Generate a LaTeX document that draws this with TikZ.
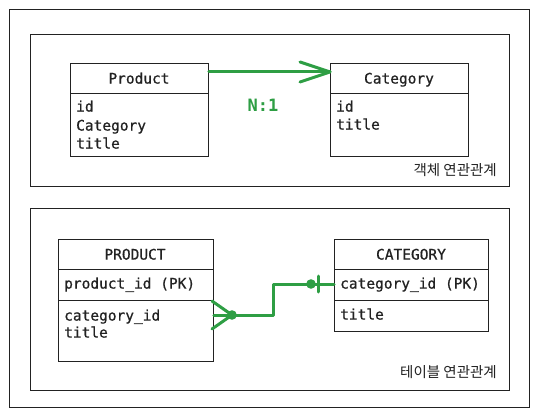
\documentclass[tikz,border=0pt]{standalone}
\usepackage{fontspec}
\setmonofont{DejaVu Sans Mono}[BoldFont=DejaVu Sans Mono, BoldFeatures={FakeBold=0.7}]
\newfontfamily\krfont{Noto Sans CJK KR}
\newfontfamily\monobold{DejaVu Sans Mono Bold}
\definecolor{relgreen}{RGB}{46,158,68}
\definecolor{ink}{RGB}{34,34,34}
\tikzset{
  frame/.style={draw=ink, line width=0.9pt},
  entity/.style={draw=ink, line width=0.9pt, anchor=north west, inner sep=0pt},
  sep/.style={draw=ink, line width=0.9pt},
  ttext/.style={font=\ttfamily\bfseries\fontsize{14.5}{17}\selectfont, text=ink, inner sep=0pt, text height=10.5pt, text depth=3pt, yshift=-1.8pt},
  field/.style={ttext, anchor=west},
  rel/.style={draw=relgreen, line width=3pt, line join=round, line cap=round},
  lbl/.style={font=\krfont\fontsize{14.5}{16}\selectfont, text=ink, inner sep=0pt, anchor=east},
}
\begin{document}
\begin{tikzpicture}[x=1pt, y=-1pt]
\useasboundingbox (0,0) rectangle (540,417);
\fill[white] (0,0) rectangle (540,417);
% frames
\draw[frame] (9,9) rectangle (529,407);
\draw[frame] (30,34) rectangle (509,186);
\draw[frame] (30,208) rectangle (509,390);
% ---- object relation ----
\node[entity, minimum width=138pt, minimum height=93pt] (prod) at (70,63) {};
\draw[sep] (70,93) -- (208,93);
\node[ttext] (prodh) at (139,78) {Product};
\node[field] (prodf1) at (76,106) {id};
\node[field] (prodf2) at (76,125) {Category};
\node[field] (prodf3) at (76,143) {title};

\node[entity, minimum width=138pt, minimum height=93pt] (cat) at (330,63) {};
\draw[sep] (330,93) -- (468,93);
\node[ttext] (cath) at (399,78) {Category};
\node[field] (catf1) at (336,106) {id};
\node[field] (catf2) at (336,124) {title};

\coordinate (a1) at (prod.north east |- 0,72);
\coordinate (a2) at (cat.north west |- 0,72);
\draw[rel] (a1) -- (a2);
\draw[rel] (a2) ++(-30,-10) -- (a2) -- ++(-30,10);
\node[font=\monobold\fontsize{17}{19}\selectfont, text=relgreen, inner sep=0pt] (n1) at (263,105) {N:1};
\node[lbl] (l1) at (497,170) {객체 연관관계};
% ---- table relation ----
\node[entity, minimum width=155pt, minimum height=122pt] (tprod) at (58,239) {};
\draw[sep] (58,269) -- (213,269);
\draw[sep] (58,300) -- (213,300);
\node[ttext] (tprodh) at (135,254) {PRODUCT};
\node[field] (tprodf1) at (64,283) {product\_id (PK)};
\node[field] (tprodf2) at (64,315) {category\_id};
\node[field] (tprodf3) at (64,332) {title};

\node[entity, minimum width=154pt, minimum height=92pt] (tcat) at (334,239) {};
\draw[sep] (334,269) -- (488,269);
\draw[sep] (334,300) -- (488,300);
\node[ttext] (tcath) at (411,254) {CATEGORY};
\node[field] (tcatf1) at (340,283) {category\_id (PK)};
\node[field] (tcatf2) at (340,314) {title};

\coordinate (c1) at (tprod.east |- 0,315);
\coordinate (c2) at (tcat.west |- 0,284);
\coordinate (k1) at (232,315);
\coordinate (k2) at (311,284);
\draw[rel] (c1) -- (k1) -- (273,315) -- (273,284) -- (c2);
\draw[rel] (212,301) -- (k1) -- (212,329);
\fill[relgreen] (k1) circle (4.8pt);
\fill[relgreen] (k2) circle (4.8pt);
\draw[rel] (318,276) -- (318,292);
\node[lbl] (l2) at (497,372) {테이블 연관관계};
\end{tikzpicture}
\end{document}
